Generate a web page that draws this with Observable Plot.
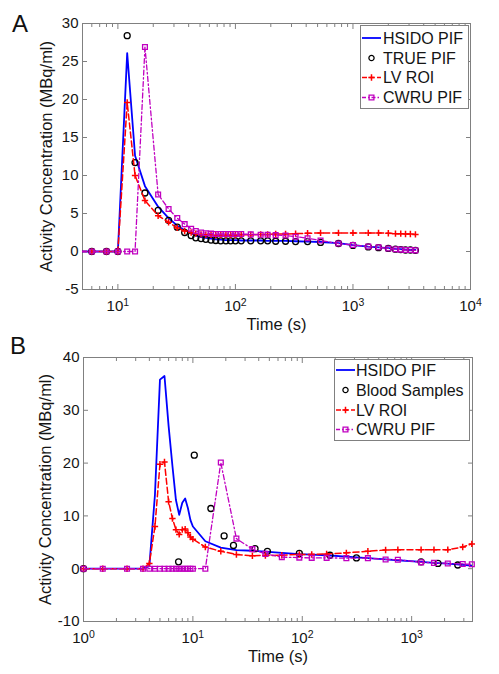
<!DOCTYPE html>
<html><head><meta charset="utf-8">
<script src="https://cdn.jsdelivr.net/npm/d3@7"></script>
<script src="https://cdn.jsdelivr.net/npm/@observablehq/plot@0.6"></script>
<style>
body{margin:0;background:#fff;font-family:"Liberation Sans",Arial,sans-serif;}
#wrap{position:relative;width:499px;height:674px;overflow:hidden;background:#fff;}
.panel{position:absolute;left:0;}
#overlay{position:absolute;left:0;top:0;pointer-events:none;}
</style></head><body><div id="wrap"></div>
<script>
// ---------- Panel A data ----------
const tA = [2,4,6,8,10,12,14,17,22,27,32,37,42,46,51,56,62,68,75,83,91,100,112,135,164,188,220,267,325,411,530,753,1000,1350,1650,2000,2300,2550,2800,3080,3400];
const hsidoA = [0,0,0,0,0,26.1,12.6,8.6,5.9,4.4,3.4,2.8,2.4,2.1,1.9,1.8,1.7,1.6,1.55,1.5,1.5,1.5,1.45,1.45,1.45,1.4,1.4,1.4,1.35,1.3,1.25,1.1,0.85,0.65,0.55,0.45,0.35,0.3,0.25,0.2,0.2];
const trueA = [0,0,0,0,0,28.4,11.7,7.7,5.4,4.1,3.2,2.5,2.1,1.8,1.7,1.6,1.5,1.45,1.4,1.4,1.4,1.4,1.4,1.4,1.4,1.4,1.35,1.35,1.3,1.3,1.2,1.05,0.8,0.6,0.5,0.4,0.3,0.25,0.2,0.2,0.15];
const lvA = [0,0,0,0,0,19.6,10.0,6.7,4.7,3.85,3.1,2.7,2.5,2.35,2.25,2.2,2.2,2.15,2.15,2.15,2.15,2.15,2.2,2.2,2.25,2.25,2.3,2.3,2.35,2.4,2.45,2.45,2.45,2.45,2.45,2.4,2.35,2.35,2.3,2.3,2.25];
const cwruA = [0,0,0,0,0,0,0,26.9,7.5,5.6,4.4,3.6,3.0,2.7,2.5,2.4,2.35,2.3,2.3,2.3,2.3,2.3,2.3,2.25,2.2,2.2,2.15,2.1,1.95,1.75,1.45,1.05,0.85,0.65,0.55,0.4,0.3,0.25,0.2,0.2,0.15];

// ---------- Panel B data ----------
const tB = [1,1.5,2.5,3.5,4,4.5,5,5.5,6,6.5,7,7.5,8,8.5,9,9.5,10,13,18,25,35,46,65,94,122,167,253,398,578,748,1220,1600,2140,2930,3550];
const hsidoB = [0,0,0,0,0.5,14,35.8,36.5,27,19.5,13,10.2,12.5,13.3,11.5,9.2,8.0,5.2,4.0,3.5,3.4,3.25,3.0,2.75,2.65,2.55,2.3,2.0,1.75,1.6,1.3,1.1,0.95,0.75,0.6];
const lvB = [0,0,0,0,1.0,8.0,19.8,20.2,12.7,9.5,7.4,6.5,7.4,7.5,6.8,6.0,5.6,4.1,3.3,2.7,2.45,2.5,2.55,2.7,2.7,2.8,3.0,3.3,3.55,3.6,3.6,3.6,3.6,4.1,4.7];
const cwruB = [0,0,0,0,0,0,0,0,0,0,0,0,0,0,0,0,0,0,20.1,5.7,3.7,2.8,2.2,2.1,2.05,2.05,2.0,2.0,1.75,1.7,1.2,1.1,1.0,0.9,0.85];
const tBlood = [1,7.4,10.3,14.6,19.3,23.5,37,48,94,179,313,1220,1740,2640];
const blood = [0,1.3,21.5,11.4,6.2,4.4,3.8,3.3,2.9,2.55,2.05,1.3,1.0,0.7];

// ---------- axes ----------
const yTicksA = [-5,0,5,10,15,20,25,30];
const yTicksB = [-10,0,10,20,30,40];
const xMajorA = [10,100,1000,10000];
const xMajorB = [1,10,100,1000];
const yLabel = "Activity Concentration (MBq/ml)";
const xLabel = "Time (s)";

const BLUE = "#0000ff", RED = "#ff0000", MAG = "#c000c0", GRAY = "#808080";
const FONT = "Liberation Sans, Arial, Helvetica, sans-serif";
const SUP = {"0":"⁰","1":"¹","2":"²","3":"³","4":"⁴"};
const UNSUP = {"⁰":"0","¹":"1","²":"2","³":"3","⁴":"4"};

function minorTicks(lo, hi) {
  const out = [];
  for (let d = Math.floor(Math.log10(lo)); d <= Math.ceil(Math.log10(hi)); d++)
    for (let m = 2; m <= 9; m++) { const v = m * Math.pow(10, d); if (v > lo && v < hi) out.push(v); }
  return out;
}

function panel(cfg) {
  const {series, xDomain, yDomain, xMajor, yTicks, height, margins, yLabelOffset, xLabelOffset} = cfg;
  const minor = minorTicks(xDomain[0], xDomain[1]);
  const marks = [
    Plot.frame({stroke: GRAY, strokeWidth: 1}),
    // inward ticks on all 4 sides
    Plot.axisX(xMajor, {anchor: "bottom", tickSize: -5, stroke: GRAY, tickFormat: () => "", label: null}),
    Plot.axisX(xMajor, {anchor: "top", tickSize: -5, stroke: GRAY, tickFormat: () => "", label: null}),
    Plot.axisX(minor, {anchor: "bottom", tickSize: -3, stroke: GRAY, tickFormat: () => "", label: null}),
    Plot.axisX(minor, {anchor: "top", tickSize: -3, stroke: GRAY, tickFormat: () => "", label: null}),
    Plot.axisY(yTicks, {anchor: "left", tickSize: -5, stroke: GRAY, tickFormat: () => "", label: null}),
    Plot.axisY(yTicks, {anchor: "right", tickSize: -5, stroke: GRAY, tickFormat: () => "", label: null}),
    // tick labels
    Plot.axisX(xMajor, {anchor: "bottom", tickSize: 0, tickPadding: cfg.xTickPad, fontSize: 15,
      tickFormat: d => "10" + SUP[String(Math.round(Math.log10(d)))], label: null}),
    Plot.axisY(yTicks, {anchor: "left", tickSize: 0, tickPadding: 4, fontSize: 15,
      tickFormat: d => String(d), label: null}),
    // axis titles
    Plot.axisX([], {anchor: "bottom", tickSize: 0, fontSize: 16.5, label: xLabel, labelAnchor: "center", labelOffset: xLabelOffset, labelArrow: "none"}),
    Plot.axisY([], {anchor: "left", tickSize: 0, fontSize: 16.5, label: yLabel, labelAnchor: "center", labelOffset: yLabelOffset, labelArrow: "none"})
  ];
  marks.push(...series);
  return Plot.plot({
    width: 499, height,
    marginTop: margins[0], marginRight: margins[1], marginBottom: margins[2], marginLeft: margins[3],
    x: {type: "log", domain: xDomain},
    y: {domain: yDomain},
    style: {fontFamily: FONT, color: "#151515", background: "transparent", overflow: "visible"},
    marks
  });
}

const dataA = tA.map((t, i) => ({t, hsido: hsidoA[i], tru: trueA[i], lv: lvA[i], cwru: cwruA[i]}));
const dataB = tB.map((t, i) => ({t, hsido: hsidoB[i], lv: lvB[i], cwru: cwruB[i]}));
const dataBlood = tBlood.map((t, i) => ({t, v: blood[i]}));

const seriesA = [
  Plot.line(dataA, {x: "t", y: "hsido", stroke: BLUE, strokeWidth: 1.8, clip: true}),
  Plot.dot(dataA, {x: "t", y: "tru", symbol: "circle", r: 3, stroke: "#000", fill: "none", strokeWidth: 1.3, clip: true}),
  Plot.line(dataA, {x: "t", y: "lv", stroke: RED, strokeWidth: 1.5, strokeDasharray: "6,3", clip: true}),
  Plot.dot(dataA, {x: "t", y: "lv", symbol: "plus", r: 2.2, stroke: RED, strokeWidth: 1.5, clip: true}),
  Plot.line(dataA, {x: "t", y: "cwru", stroke: MAG, strokeWidth: 1.3, strokeDasharray: "5,2.5,1.5,2.5", clip: true}),
  Plot.dot(dataA, {x: "t", y: "cwru", symbol: "square", r: 2.7, stroke: MAG, fill: "none", strokeWidth: 1.3, clip: true})
];
const seriesB = [
  Plot.line(dataB, {x: "t", y: "hsido", stroke: BLUE, strokeWidth: 1.8, clip: true}),
  Plot.dot(dataBlood, {x: "t", y: "v", symbol: "circle", r: 3, stroke: "#000", fill: "none", strokeWidth: 1.3}),
  Plot.line(dataB, {x: "t", y: "lv", stroke: RED, strokeWidth: 1.5, strokeDasharray: "6,3", clip: true}),
  Plot.dot(dataB, {x: "t", y: "lv", symbol: "plus", r: 2.2, stroke: RED, strokeWidth: 1.5}),
  Plot.line(dataB, {x: "t", y: "cwru", stroke: MAG, strokeWidth: 1.3, strokeDasharray: "5,2.5,1.5,2.5", clip: true}),
  Plot.dot(dataB, {x: "t", y: "cwru", symbol: "square", r: 2.7, stroke: MAG, fill: "none", strokeWidth: 1.3})
];

const plotA = panel({series: seriesA, xDomain: [5, 10000], yDomain: [-5, 30], xMajor: xMajorA, yTicks: yTicksA,
  height: 335, margins: [23, 29, 46, 82], yLabelOffset: 42, xLabelOffset: 40, xTickPad: 11});
const plotB = panel({series: seriesB, xDomain: [1, 3600], yDomain: [-10, 40], xMajor: xMajorB, yTicks: yTicksB,
  height: 339, margins: [22, 27, 53, 83], yLabelOffset: 44, xLabelOffset: 40, xTickPad: 11});

const wrap = document.getElementById("wrap");
function place(p, top) {
  const d = document.createElement("div");
  d.className = "panel"; d.style.top = top + "px";
  d.appendChild(p); wrap.appendChild(d);
  // superscript exponents on log tick labels
  p.querySelectorAll("text").forEach(t => {
    const m = /^10([⁰¹²³⁴])$/.exec(t.textContent);
    if (!m) return;
    t.textContent = "";
    const ns = "http://www.w3.org/2000/svg";
    const a = document.createElementNS(ns, "tspan"); a.textContent = "10"; t.appendChild(a);
    const b = document.createElementNS(ns, "tspan"); b.textContent = UNSUP[m[1]];
    b.setAttribute("dy", "-0.5em"); b.setAttribute("font-size", "10.5"); t.appendChild(b);
  });
}
place(plotA, 0);
place(plotB, 335);

// ---------- overlay: panel letters + legends ----------
const ov = d3.select(wrap).append("svg").attr("id", "overlay").attr("width", 499).attr("height", 674)
  .style("font-family", FONT);
ov.append("text").attr("x", 12).attr("y", 32).attr("font-size", 24).attr("fill", "#111").text("A");
ov.append("text").attr("x", 10).attr("y", 354).attr("font-size", 24).attr("fill", "#111").text("B");

function legend(box, entries) {
  const g = ov.append("g");
  g.append("rect").attr("x", box.x + 0.5).attr("y", box.y + 0.5).attr("width", box.w).attr("height", box.h)
    .attr("fill", "#fff").attr("stroke", GRAY);
  entries.forEach((e, i) => {
    const y = box.y + box.rows[i];
    const x1 = box.x + box.lx1, x2 = box.x + box.lx2, xm = (x1 + x2) / 2;
    if (e.line) g.append("line").attr("x1", x1).attr("x2", x2).attr("y1", y).attr("y2", y)
      .attr("stroke", e.color).attr("stroke-width", e.sw).attr("stroke-dasharray", e.dash || null);
    if (e.marker) {
      const sym = {circle: d3.symbolCircle, plus: d3.symbolPlus, square: d3.symbolSquare}[e.marker];
      g.append("path").attr("transform", `translate(${xm},${y})`)
        .attr("d", d3.symbol(sym, Math.PI * e.r * e.r)())
        .attr("fill", "none").attr("stroke", e.color).attr("stroke-width", e.msw || 1.3);
    }
    g.append("text").attr("x", box.x + box.tx).attr("y", y).attr("dy", "0.36em")
      .attr("font-size", 16).attr("fill", "#151515").text(e.label);
  });
}
const legA = ["HSIDO PIF", "TRUE PIF", "LV ROI", "CWRU PIF"];
const legB = ["HSIDO PIF", "Blood Samples", "LV ROI", "CWRU PIF"];
function entries(labels) {
  return [
    {label: labels[0], line: true, color: BLUE, sw: 1.8},
    {label: labels[1], marker: "circle", color: "#000", r: 2.6},
    {label: labels[2], line: true, color: RED, sw: 1.5, dash: "5,2.5", marker: "plus", r: 2.2, msw: 1.5},
    {label: labels[3], line: true, color: MAG, sw: 1.3, dash: "4,2,1.5,2", marker: "square", r: 2.7}
  ];
}
legend({x: 360, y: 25, w: 108, h: 83, rows: [13, 33, 52.5, 72.5], lx1: 2, lx2: 21, tx: 23}, entries(legA));
legend({x: 334, y: 359, w: 135, h: 81, rows: [11, 31, 51, 70.5], lx1: 2, lx2: 21, tx: 22}, entries(legB));
</script></body></html>
